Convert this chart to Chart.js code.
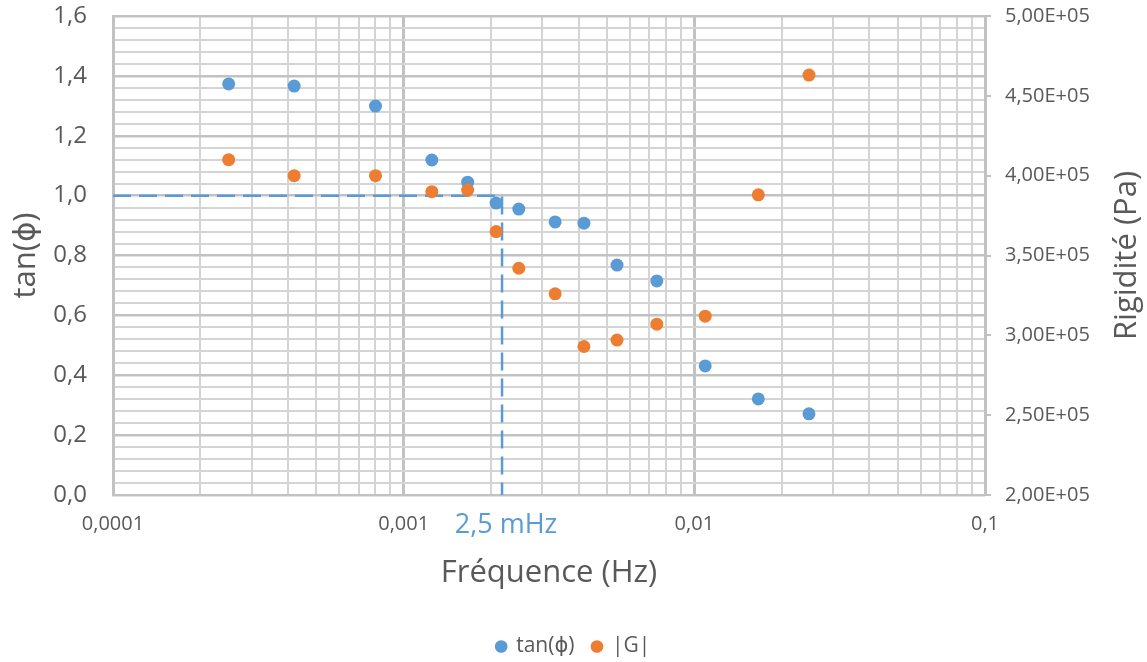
<!DOCTYPE html>
<html><head><meta charset="utf-8">
<script src="https://cdn.jsdelivr.net/npm/chart.js@4.4.0/dist/chart.umd.min.js"></script>
<style>html,body{margin:0;padding:0;background:#fff;overflow:hidden}</style>
</head><body>
<canvas id="c" width="1147" height="662"></canvas>
<script>
// ---- data ----
const frequency = [0.00025, 0.00042, 0.0008, 0.00125, 0.00166, 0.00208, 0.00249, 0.00332, 0.00417, 0.00542, 0.00743, 0.0109, 0.0166, 0.0248];
const tanPhi    = [1.373, 1.366, 1.299, 1.119, 1.045, 0.975, 0.955, 0.912, 0.908, 0.768, 0.715, 0.431, 0.321, 0.271];
const modulusG  = [4.10e5, 4.00e5, 4.00e5, 3.90e5, 3.91e5, 3.65e5, 3.42e5, 3.26e5, 2.93e5, 2.97e5, 3.07e5, 3.12e5, 3.88e5, 4.63e5];
const guideX = [0.0001, 0.00218, 0.00218];
const guideY = [1.0, 1.0, 0.0];
const guideLabel = '2,5 mHz';
const seriesNames = ['tan(ϕ)', '|G|'];
const xTitle = 'Fréquence (Hz)';
const yTitle = 'tan(ϕ)';
const y1Title = 'Rigidité (Pa)';
const xDecades = [0.0001, 0.001, 0.01, 0.1];
const xMultiples = [1, 2, 3, 4, 5, 6, 7, 8, 9];
const yRange = [0, 1.6], yMajorStep = 0.2, yMinorStep = 0.04;
const y1Range = [2e5, 5e5], y1Step = 5e4;

const FONT = "'Open Sans', 'DejaVu Sans', sans-serif";
const TXT = '#595959';
const BLUE = '#5b9bd5', ORANGE = '#ed7d31';
const AXIS = '#c2c2c2';

function isYMajor(v) { const r = v / yMajorStep; return Math.abs(r - Math.round(r)) < 1e-6; }
function isDecade(v) { return xDecades.some(d => Math.abs(v / d - 1) < 1e-6); }
function fmtSci(v) {
  const e = Math.floor(Math.log10(v) + 1e-9);
  const m = v / Math.pow(10, e);
  const es = (e >= 0 ? '+' : '-') + String(Math.abs(e)).padStart(2, '0');
  return m.toFixed(2).replace('.', ',') + 'E' + es;
}

const guidePlugin = {
  id: 'guide',
  afterDraw(chart) {
    const ctx = chart.ctx, xs = chart.scales.x, area = chart.chartArea;
    ctx.save();
    ctx.fillStyle = BLUE;
    ctx.font = "27px " + FONT;
    ctx.textAlign = 'center';
    ctx.textBaseline = 'middle';
    ctx.fillText(guideLabel, xs.getPixelForValue(guideX[1]) + 4, area.bottom + 30);
    // right axis title, reading bottom-to-top as in the reference
    ctx.fillStyle = TXT;
    ctx.font = "31px " + FONT;
    ctx.translate(1127, (area.top + area.bottom) / 2);
    ctx.rotate(-Math.PI / 2);
    ctx.fillText(y1Title, 0, 0);
    ctx.restore();
  }
};

new Chart(document.getElementById('c'), {
  type: 'scatter',
  data: {
    datasets: [
      { label: seriesNames[0], data: frequency.map((f, i) => ({ x: f, y: tanPhi[i] })),
        yAxisID: 'y', backgroundColor: BLUE, borderColor: BLUE, pointRadius: 6.5, pointHoverRadius: 6.5, borderWidth: 0, order: 2 },
      { label: seriesNames[1], data: frequency.map((f, i) => ({ x: f, y: modulusG[i] })),
        yAxisID: 'y1', backgroundColor: ORANGE, borderColor: ORANGE, pointRadius: 6.5, pointHoverRadius: 6.5, borderWidth: 0, order: 1 },
      { label: 'guide', data: guideX.map((x, i) => ({ x, y: guideY[i] })), yAxisID: 'y',
        showLine: true, borderColor: BLUE, borderWidth: 2.5, borderDash: [18, 8], pointRadius: 0, fill: false, order: 3 }
    ]
  },
  plugins: [guidePlugin],
  options: {
    responsive: false,
    animation: false,
    layout: { padding: { top: 16, left: 0, right: 0, bottom: -5 } },
    plugins: {
      tooltip: { enabled: false },
      legend: {
        position: 'bottom',
        labels: {
          filter: it => it.text !== 'guide',
          sort: (a, b) => a.datasetIndex - b.datasetIndex,
          usePointStyle: true, pointStyle: 'circle', boxWidth: 9, boxHeight: 9,
          padding: 18, color: TXT, font: { family: FONT, size: 21 }
        }
      }
    },
    scales: {
      x: {
        type: 'logarithmic', position: 'bottom',
        min: xDecades[0], max: xDecades[xDecades.length - 1],
        afterBuildTicks: axis => {
          const t = [];
          xDecades.forEach(d => xMultiples.forEach(m => { const v = +(d * m).toPrecision(6); if (v <= xDecades[xDecades.length - 1] + 1e-12) t.push(v); }));
          const uniq = [...new Set(t)].sort((a, b) => a - b);
          axis.ticks = uniq.map(v => ({ value: v, major: false }));
        },
        afterFit: axis => { axis.height = 662 + 5 - axis.chart.legend.height - 495; },
        ticks: { autoSkip: false, maxRotation: 0, color: TXT, font: { family: FONT, size: 20 }, padding: 17,
          callback: v => isDecade(v) ? String(v).replace('.', ',') : '' },
        grid: { drawTicks: false, color: c => isDecade(c.tick.value) ? AXIS : '#d4d4d4', lineWidth: c => isDecade(c.tick.value) ? 3 : 2 },
        border: { display: true, color: AXIS, width: 2 },
        title: { display: true, text: xTitle, color: TXT, font: { family: FONT, size: 31 }, padding: { top: 0, bottom: 26 } }
      },
      y: {
        type: 'linear', position: 'left', min: yRange[0], max: yRange[1],
        afterBuildTicks: axis => {
          const n = Math.round((yRange[1] - yRange[0]) / yMinorStep);
          const t = [];
          for (let i = 0; i <= n; i++) t.push({ value: +(yRange[0] + i * yMinorStep).toFixed(4) });
          axis.ticks = t;
        },
        afterFit: axis => { axis.width = 113; },
        ticks: { autoSkip: false, color: TXT, font: { family: FONT, size: 24 }, padding: 0,
          callback: v => isYMajor(v) ? v.toFixed(1).replace('.', ',') : '' },
        grid: { drawTicks: true, tickLength: 26, tickColor: 'rgba(0,0,0,0)',
          color: c => isYMajor(c.tick.value) ? AXIS : '#d4d4d4', lineWidth: c => isYMajor(c.tick.value) ? 2.5 : 2 },
        border: { display: true, color: AXIS, width: 3 },
        title: { display: true, text: yTitle, color: TXT, font: { family: FONT, size: 31 }, padding: { top: 8, bottom: 0 } }
      },
      y1: {
        type: 'linear', position: 'right', min: y1Range[0], max: y1Range[1],
        afterBuildTicks: axis => {
          const t = [];
          for (let v = y1Range[0]; v <= y1Range[1] + 1; v += y1Step) t.push({ value: v });
          axis.ticks = t;
        },
        afterFit: axis => { axis.width = 1147 - 985; },
        ticks: { color: TXT, font: { family: FONT, size: 20 }, padding: 0, crossAlign: 'near', callback: v => fmtSci(v) },
        grid: { drawOnChartArea: false, drawTicks: true, tickLength: 20, lineWidth: 2,
          tickColor: c => {
            const s = c.scale, g = c.chart.ctx.createLinearGradient(s.left, 0, s.left + 20, 0);
            g.addColorStop(0, AXIS); g.addColorStop(0.3, AXIS); g.addColorStop(0.3, 'rgba(0,0,0,0)'); g.addColorStop(1, 'rgba(0,0,0,0)');
            return g;
          } },
        border: { display: true, color: AXIS, width: 2 }
      }
    }
  }
});
</script>
</body></html>
